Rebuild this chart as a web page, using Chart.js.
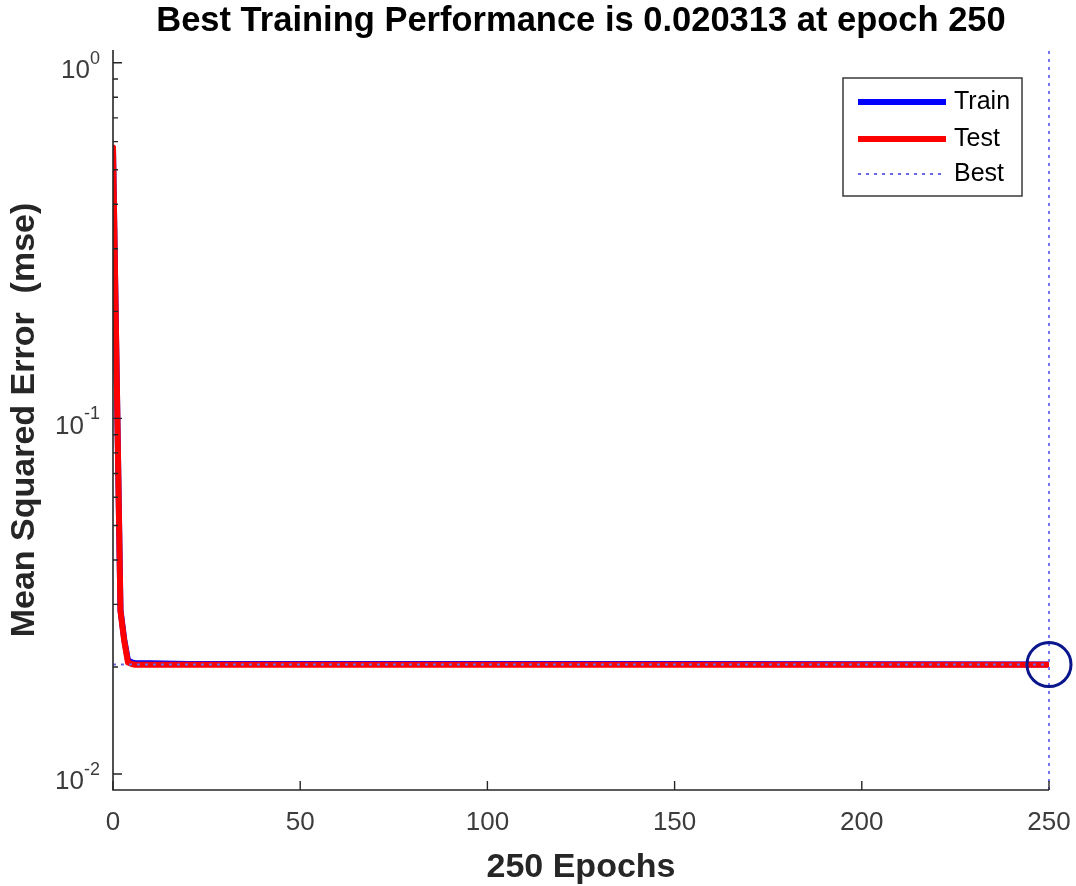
<!DOCTYPE html>
<html>
<head>
<meta charset="utf-8">
<title>Best Training Performance</title>
<style>
  body { margin: 0; background: #fff; }
  #wrap { width: 1076px; height: 886px; }
</style>
</head>
<body>
<div id="wrap"><canvas id="perf" width="1076" height="886"></canvas></div>

<script src="https://cdn.jsdelivr.net/npm/chart.js@4.4.1/dist/chart.umd.min.js"></script>
<script>
// values
var epochs    = [0, 1, 2, 3, 4, 5, 6, 8, 10, 20, 50, 100, 150, 200, 250];
var trainPerf = [0.575, 0.13, 0.0289, 0.0239, 0.0209, 0.0206, 0.0205, 0.0205, 0.0205, 0.0204, 0.0204, 0.0204, 0.0204, 0.02035, 0.020313];
var testPerf  = [0.578, 0.13, 0.0287, 0.0237, 0.0206, 0.0204, 0.0203, 0.0203, 0.0203, 0.0203, 0.0203, 0.0203, 0.0203, 0.0203, 0.0203];
var bestEpoch = 250;
var bestPerf  = 0.020313;

var xTicks   = [0, 50, 100, 150, 200, 250];
var yTicks   = [0.01, 0.1, 1];
var yTickExp = ['-2', '-1', '0'];
var yMin = 0.00902, yMax = 1.086;

var titleText = 'Best Training Performance is 0.020313 at epoch 250';
var xTitle = '250 Epochs';
var yTitle = 'Mean Squared Error  (mse)';

var FONT = "'Liberation Sans', Arial, Helvetica, sans-serif";
var axisColor = '#262626';
var tickColor = '#3c3c3c';
var bestColor = '#6a6aee';

function pts(ys) {
  return epochs.map(function (e, i) { return { x: e, y: ys[i] }; });
}

// axes, ticks, labels and legend drawn MATLAB style
var matlabAxes = {
  id: 'matlabAxes',
  afterDraw: function (chart) {
    var ctx = chart.ctx, a = chart.chartArea;
    var xs = chart.scales.x, ys = chart.scales.y;
    ctx.save();

    ctx.strokeStyle = axisColor;
    ctx.lineWidth = 1.6;
    ctx.beginPath();
    ctx.moveTo(a.left, a.top);
    ctx.lineTo(a.left, a.bottom);
    ctx.lineTo(a.right, a.bottom);
    ctx.stroke();

    ctx.lineWidth = 1.4;
    ctx.beginPath();
    xTicks.forEach(function (v) {
      var px = xs.getPixelForValue(v);
      ctx.moveTo(px, a.bottom);
      ctx.lineTo(px, a.bottom - 9);
    });
    yTicks.forEach(function (v) {
      var py = ys.getPixelForValue(v);
      ctx.moveTo(a.left, py);
      ctx.lineTo(a.left + 9, py);
    });
    [0.001, 0.01, 0.1, 1].forEach(function (d) {
      for (var m = 2; m <= 9; m++) {
        var v = m * d;
        if (v > yMin && v < yMax) {
          var py = ys.getPixelForValue(v);
          ctx.moveTo(a.left, py);
          ctx.lineTo(a.left + 5, py);
        }
      }
    });
    ctx.stroke();

    // tick labels
    ctx.fillStyle = tickColor;
    ctx.font = '26px ' + FONT;
    ctx.textAlign = 'center';
    ctx.textBaseline = 'middle';
    xTicks.forEach(function (v) {
      ctx.fillText(String(v), xs.getPixelForValue(v), a.bottom + 33);
    });
    yTicks.forEach(function (v, i) {
      var py = ys.getPixelForValue(v);
      var right = a.left - 13;
      ctx.font = '18px ' + FONT;
      var ew = ctx.measureText(yTickExp[i]).width;
      ctx.textAlign = 'left';
      ctx.fillText(yTickExp[i], right - ew, py - 4);
      ctx.font = '26px ' + FONT;
      ctx.textAlign = 'right';
      ctx.fillText('10', right - ew, py + 8);
    });

    // titles
    ctx.fillStyle = '#000';
    ctx.font = 'bold 34.5px ' + FONT;
    ctx.textAlign = 'center';
    ctx.textBaseline = 'alphabetic';
    ctx.fillText(titleText, (a.left + a.right) / 2, 31);
    ctx.font = 'bold 34px ' + FONT;
    ctx.fillStyle = axisColor;
    ctx.fillText(xTitle, (a.left + a.right) / 2, 877);
    ctx.save();
    ctx.translate(34, (a.top + a.bottom) / 2);
    ctx.rotate(-Math.PI / 2);
    ctx.fillText(yTitle, 0, 0);
    ctx.restore();

    // legend
    var lx = 843, ly = 78, lw = 179, lh = 118;
    ctx.fillStyle = '#fff';
    ctx.fillRect(lx, ly, lw, lh);
    ctx.strokeStyle = '#3a3a3a';
    ctx.lineWidth = 1.5;
    ctx.strokeRect(lx, ly, lw, lh);
    var rows = [102, 139, 174];
    var items = chart.data.datasets.filter(function (d) { return d.inLegend; });
    items.forEach(function (d, i) {
      ctx.save();
      ctx.strokeStyle = d.borderColor;
      ctx.lineWidth = d.borderWidth;
      ctx.setLineDash(d.borderDash || []);
      ctx.beginPath();
      ctx.moveTo(858, rows[i]);
      ctx.lineTo(946, rows[i]);
      ctx.stroke();
      ctx.restore();
      ctx.fillStyle = '#000';
      ctx.font = '25px ' + FONT;
      ctx.textAlign = 'left';
      ctx.textBaseline = 'middle';
      ctx.fillText(d.label, 954, rows[i]);
    });

    ctx.restore();
  }
};

var ctx = document.getElementById('perf').getContext('2d');
var chart = new Chart(ctx, {
  type: 'line',
  data: {
    datasets: [
      {
        label: 'Train', inLegend: true, order: 3,
        data: pts(trainPerf),
        borderColor: '#0000ff', borderWidth: 6,
        pointRadius: 0, tension: 0,
        borderJoinStyle: 'round', borderCapStyle: 'round'
      },
      {
        label: 'Test', inLegend: true, order: 2,
        data: pts(testPerf),
        borderColor: '#ff0000', borderWidth: 6,
        pointRadius: 0, tension: 0,
        borderJoinStyle: 'round', borderCapStyle: 'round'
      },
      {
        label: 'Best', inLegend: true, order: 1,
        data: [{ x: 0, y: bestPerf }, { x: bestEpoch, y: bestPerf }],
        borderColor: bestColor, borderWidth: 2, borderDash: [3, 5],
        pointRadius: 0
      },
      {
        label: 'Best epoch', order: 1,
        data: [{ x: bestEpoch, y: yMin }, { x: bestEpoch, y: yMax }],
        borderColor: '#7474f4', borderWidth: 2, borderDash: [3, 5],
        pointRadius: 0, clip: false
      },
      {
        label: 'Best point', order: 0,
        data: [{ x: bestEpoch, y: bestPerf }],
        showLine: false, clip: false,
        pointRadius: 22, pointStyle: 'circle',
        pointBorderWidth: 3, pointBorderColor: '#0a168c',
        pointBackgroundColor: 'rgba(0,0,0,0)'
      }
    ]
  },
  options: {
    responsive: false,
    animation: false,
    devicePixelRatio: 1,
    layout: { padding: { left: 113, right: 27, top: 50, bottom: 96 } },
    scales: {
      x: { type: 'linear', min: 0, max: 250, display: false },
      y: { type: 'logarithmic', min: yMin, max: yMax, display: false }
    },
    plugins: {
      legend: { display: false },
      tooltip: { enabled: false }
    }
  },
  plugins: [matlabAxes]
});
</script>
</body>
</html>
